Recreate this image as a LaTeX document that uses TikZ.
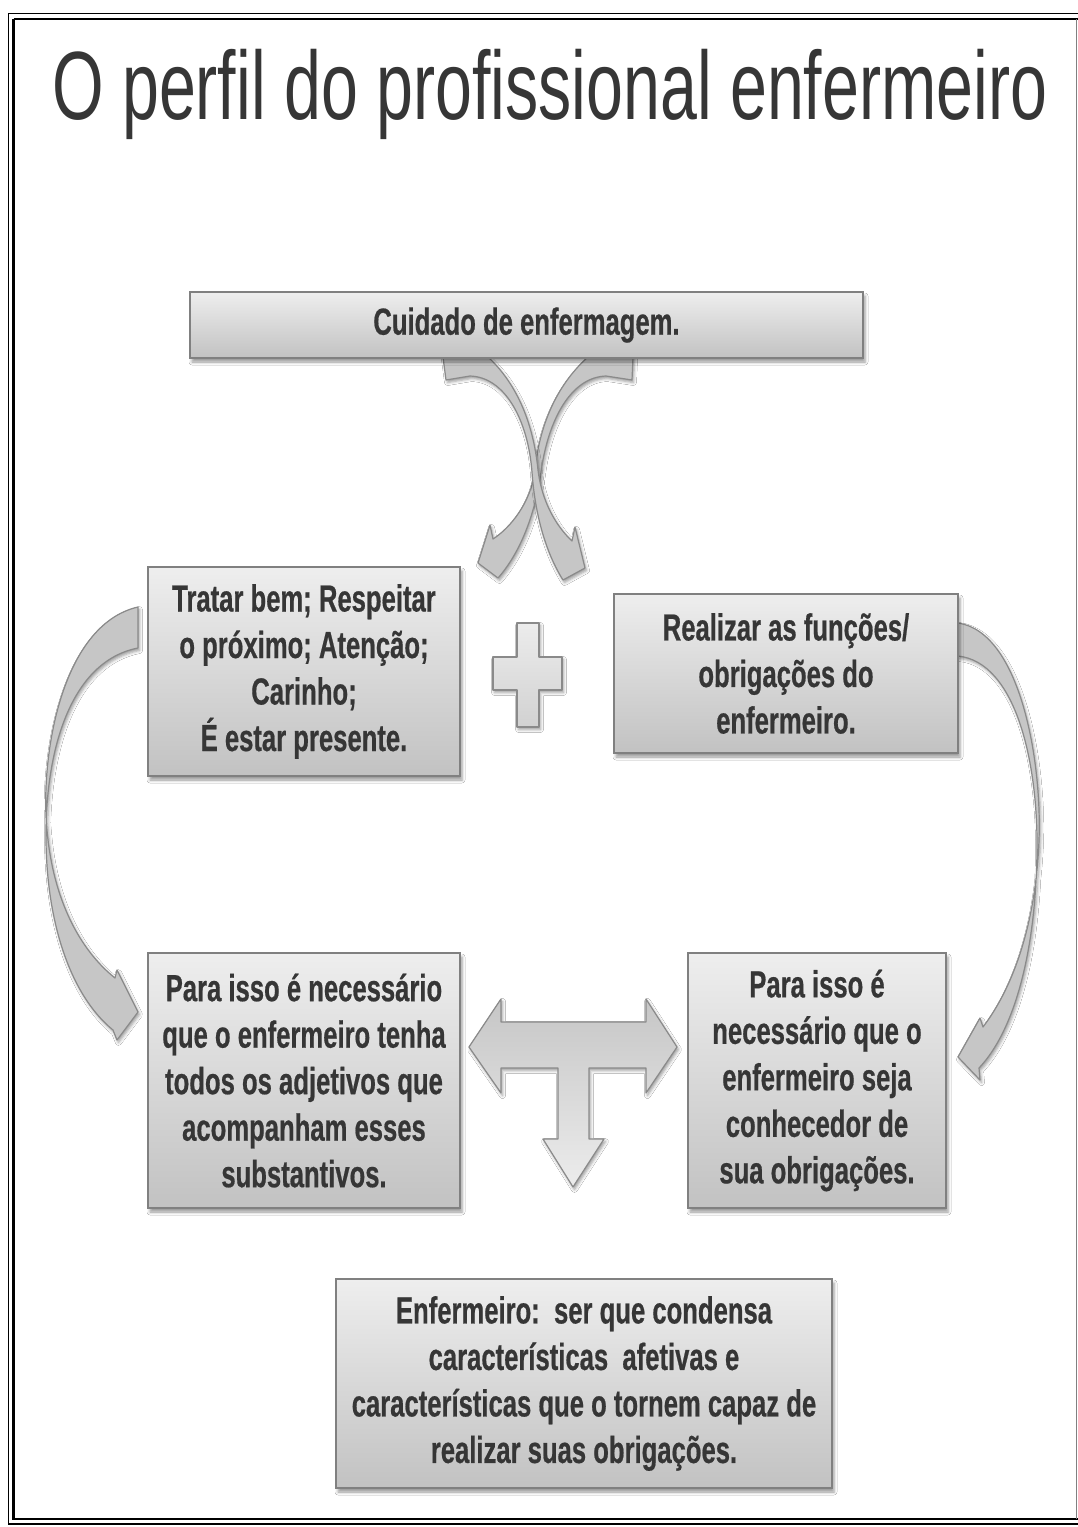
\documentclass[tikz,border=0pt]{standalone}
\usepackage{fontspec}
\usepackage{graphicx}
\setmainfont{Liberation Sans}
\newfontfamily\cardfont[FakeStretch=0.68,FakeBold=0.5]{Liberation Sans Bold}
\usetikzlibrary{shadows.blur}
\definecolor{ink}{HTML}{363636}
\definecolor{cardtop}{HTML}{EEEEEE}
\definecolor{cardbot}{HTML}{C2C2C2}
\definecolor{cardline}{HTML}{808080}
\definecolor{arrowfill}{HTML}{C6C6C6}
\definecolor{arrowline}{HTML}{8A8A8A}
\definecolor{tlight}{HTML}{ECECEC}
\definecolor{tdark}{HTML}{C6C6C6}

\begin{document}
\begin{tikzpicture}[x=1pt,y=-1pt,
  card/.style={draw=cardline, line width=1.5pt, top color=cardtop, bottom color=cardbot,
    blur shadow={shadow xshift=2pt, shadow yshift=-4pt, shadow blur radius=3pt},
    inner sep=0pt, align=center, text=ink,
    font=\cardfont\fontsize{37.7}{46.5}\selectfont},
  blockarrow/.style={draw=arrowline, line width=1.2pt, fill=arrowfill, line join=round,
    blur shadow={shadow xshift=1.5pt, shadow yshift=-2.5pt, shadow blur radius=3pt}},
  frameline/.style={draw=black}]

% page and double frame
\fill[white] (0,0) rectangle (1078,1527);
\useasboundingbox (0,0) rectangle (1078,1527);
\draw[frameline, line width=1.5pt] (8.5,13.5) rectangle (1095,1524);
\draw[frameline, line width=2.5pt] (13.5,19) -- (1078,19);
\draw[frameline, line width=2.5pt] (1078,1519) -- (13.5,1519) -- (13.5,19);
\draw[draw=gray, line width=1pt] (1076.5,19) -- (1076.5,1519);

% title
\node[anchor=base west, inner sep=0pt, text=ink] (title) at (52,119)
  {\resizebox{995pt}{\height}{\fontsize{97}{110}\selectfont O perfil do profissional enfermeiro}};

% crossing arrows below the top card
\path[blockarrow] (633,357) -- (588,357) .. controls (560,382) and (540,420) .. (535,470)
  .. controls (531,503) and (510,528) .. (493,539) -- (490,525) -- (478,563) -- (498,578)
  .. controls (520,553) and (535,515) .. (541,472) .. controls (548,420) and (571,377) .. (606,376)
  -- (632,380) -- cycle;
\path[blockarrow] (443,357) -- (488,357) .. controls (515,382) and (533,420) .. (538,470)
  .. controls (542,503) and (557,527) .. (572,541) -- (575,527) -- (585,568) -- (563,580)
  .. controls (546,553) and (535,515) .. (532,472) .. controls (528,420) and (505,377) .. (470,376)
  -- (446,380) -- cycle;

% left curved arrow
\path[blockarrow] (138,607) .. controls (60,625) and (40,760) .. (47,830)
  .. controls (53,900) and (80,950) .. (115,978) -- (117,970) -- (138,1012) -- (117,1040)
  -- (113,1030) .. controls (70,995) and (45,920) .. (46,830)
  .. controls (47,740) and (75,660) .. (138,648) -- cycle;

% right curved arrow
\path[blockarrow] (958,623) .. controls (1020,632) and (1042,760) .. (1039,840)
  .. controls (1036,920) and (1015,985) .. (983,1027) -- (980,1018) -- (958,1057) -- (980,1080)
  -- (979,1068) .. controls (1015,1030) and (1036,950) .. (1037,850)
  .. controls (1038,760) and (1015,662) .. (958,656) -- cycle;

% plus sign
\path[blockarrow, top color=tlight, bottom color=tdark!80!white]
  (517,623) -- (539,623) -- (539,657) -- (562,657) -- (562,690) -- (539,690) -- (539,727)
  -- (517,727) -- (517,690) -- (493,690) -- (493,657) -- (517,657) -- cycle;

% T-shaped three-way arrow
\path[blockarrow, top color=tdark, bottom color=tlight]
  (469,1047) -- (501,999) -- (501,1022) -- (646,1022) -- (646,999) -- (677,1047) -- (646,1093)
  -- (646,1068) -- (589,1068) -- (589,1139) -- (604,1139) -- (573,1187) -- (543,1139)
  -- (558,1139) -- (558,1068) -- (501,1068) -- (501,1093) -- cycle;

% cards
\node[card, minimum width=673pt, minimum height=66pt] (care) at (526.5,325)
  {Cuidado de enfermagem.};
\node[card, minimum width=312pt, minimum height=209pt] (affect) at (304,671.5)
  {Tratar bem; Respeitar\\o próximo; Atenção;\\Carinho;\\É estar presente.};
\node[card, minimum width=344pt, minimum height=159pt] (duties) at (786,673.5)
  {Realizar as funções/\\obrigações do\\enfermeiro.};
\node[card, minimum width=312pt, minimum height=255pt] (needleft) at (304,1080.5)
  {Para isso é necessário\\que o enfermeiro tenha\\todos os adjetivos que\\acompanham esses\\substantivos.};
\node[card, minimum width=258pt, minimum height=255pt] (needright) at (817,1080.5)
  {Para isso é\\necessário que o\\enfermeiro seja\\conhecedor de\\sua obrigações.};
\node[card, minimum width=496pt, minimum height=209pt] (nurse) at (584,1383.5)
  {Enfermeiro:\ \ ser que condensa\\características\ \ afetivas e\\características que o tornem capaz de\\realizar suas obrigações.};
\end{tikzpicture}
\end{document}
